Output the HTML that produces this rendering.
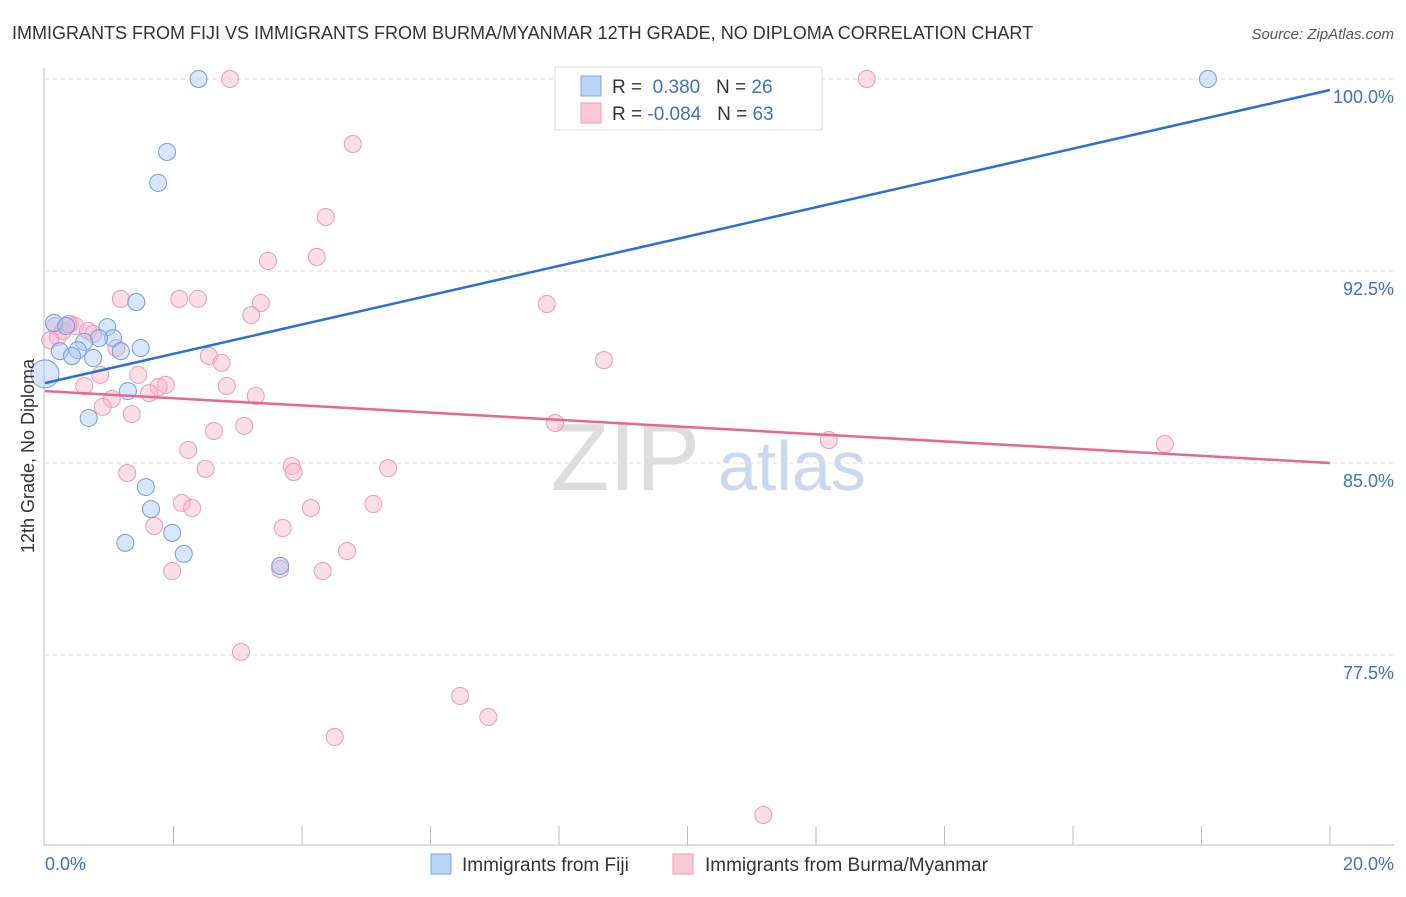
<!DOCTYPE html>
<html><head><meta charset="utf-8"><style>
body{margin:0;background:#fff;font-family:"Liberation Sans",sans-serif;}
svg text{font-family:"Liberation Sans",sans-serif;}
</style></head><body>
<svg width="1406" height="892" xmlns="http://www.w3.org/2000/svg">
<text x="12" y="39" font-size="18" fill="#333">IMMIGRANTS FROM FIJI VS IMMIGRANTS FROM BURMA/MYANMAR 12TH GRADE, NO DIPLOMA CORRELATION CHART</text>
<text x="1394" y="39" font-size="15" fill="#555" font-style="italic" text-anchor="end">Source: ZipAtlas.com</text>
<g id="grid"></g>
<text x="700" y="490" font-size="96" fill="#ddd" text-anchor="end" font-family="Liberation Serif">ZIP</text>
<text x="718" y="490" font-size="70" fill="#c9d9ef">atlas</text>
<line x1="44" y1="68" x2="44" y2="845" stroke="#bbb"/>
<line x1="44" y1="845" x2="1394" y2="845" stroke="#bbb"/>
<g id="ticks"></g>
<g id="pts"></g>
<g id="lines"></g>
<text x="34" y="456" font-size="18" fill="#333" text-anchor="middle" transform="rotate(-90 34 456)">12th Grade, No Diploma</text>
<text x="45" y="870" font-size="18" fill="#3b6fd0">0.0%</text>
<text x="1394" y="870" font-size="18" fill="#3b6fd0" text-anchor="end">20.0%</text>
<g>
<rect x="555" y="67" width="267" height="63" fill="#fff" stroke="#ddd"/>
<rect x="581" y="76" width="20" height="20" fill="#b9d3f5" stroke="#7aa6e6"/>
<rect x="581" y="103" width="20" height="20" fill="#fbc9d6" stroke="#ee9ab2"/>
<text x="612" y="93" font-size="19" fill="#333">R = <tspan fill="#3b6fd0">&#160;0.380</tspan>&#160;&#160;&#160;N = <tspan fill="#3b6fd0">26</tspan></text>
<text x="612" y="120" font-size="19" fill="#333">R = <tspan fill="#3b6fd0">-0.084</tspan>&#160;&#160;&#160;N = <tspan fill="#3b6fd0">63</tspan></text>
</g>
<g>
<rect x="431" y="854" width="20" height="20" fill="#b9d3f5" stroke="#7aa6e6"/>
<text x="462" y="871" font-size="19" fill="#333">Immigrants from Fiji</text>
<rect x="673" y="854" width="20" height="20" fill="#fbc9d6" stroke="#ee9ab2"/>
<text x="705" y="871" font-size="19" fill="#333">Immigrants from Burma/Myanmar</text>
</g>
</svg>
<script>
const yTicks=[100,92.5,85,77.5];
const yTickLabels=["100.0%","92.5%","85.0%","77.5%"];
const fijiX=[2.39,1.90,1.76,1.42,0.14,0.97,0.33,1.06,0.84,0.61,1.49,0.23,1.18,0.51,0.42,0.75,0.0,1.29,0.68,1.57,1.65,1.25,1.98,2.16,3.66,18.10];
const fijiY=[100,97.15,95.94,91.29,90.47,90.31,90.35,89.88,89.88,89.73,89.49,89.37,89.37,89.41,89.18,89.10,88.48,87.81,86.76,84.06,83.20,81.88,82.27,81.45,80.98,100];
const burmaX=[2.88,12.79,4.79,4.37,3.47,4.23,1.18,2.09,2.38,3.36,7.81,3.21,0.16,0.39,0.47,0.28,0.67,0.75,0.20,1.11,2.55,2.75,8.70,0.86,1.45,0.61,1.88,1.77,1.62,2.83,3.28,1.04,0.90,1.35,7.94,3.10,2.63,12.20,17.43,2.23,3.84,3.87,5.34,2.50,1.28,5.11,2.13,2.29,4.14,1.70,3.70,4.70,1.98,3.66,4.32,3.05,6.46,6.90,4.51,11.18,0.08,0.36];
const burmaY=[100,100,97.46,94.61,92.89,93.05,91.41,91.41,91.41,91.25,91.21,90.78,90.35,90.43,90.35,90.16,90.16,90.04,89.92,89.49,89.18,88.91,89.02,88.44,88.44,88.01,88.05,87.97,87.73,88.01,87.62,87.50,87.19,86.91,86.56,86.45,86.25,85.90,85.74,85.51,84.88,84.65,84.80,84.77,84.61,83.40,83.44,83.24,83.24,82.54,82.46,81.56,80.78,80.86,80.78,77.62,75.90,75.08,74.30,71.25,89.80,90.43];
const trendX=[0,20];
const fijiTrend=[88.12,99.57];
const burmaTrend=[87.81,85.0];
const xTicks=[2,4,6,8,10,12,14,16,18,20];
const NS="http://www.w3.org/2000/svg";
const X=v=>45+v/20*1285, Y=v=>79+(100-v)*25.6;
function mk(t,a,p){const e=document.createElementNS(NS,t);for(const k in a)e.setAttribute(k,a[k]);document.getElementById(p).appendChild(e);return e;}
yTicks.forEach((v,i)=>{
 const l=mk('line',{x1:45,x2:1394,y1:Y(v),y2:Y(v),stroke:'#ddd','stroke-dasharray':'4,4'},'grid');
 
 
 const t=mk('text',{x:1394,y:Y(v)+24,'font-size':18,fill:'#3b6fd0','text-anchor':'end'},'grid');
 t.textContent=yTickLabels[i];
 
 
});
xTicks.forEach(v=>{
 const l=mk('line',{x1:X(v),x2:X(v),y1:826,y2:845,stroke:'#bbb'},'ticks');
 
 
});
burmaX.forEach((v,i)=>{
 const c=mk('circle',{cx:X(v),cy:Y(burmaY[i]),r:8.5,fill:'#f7b6c9','fill-opacity':0.45,stroke:'#ee9ab2','stroke-width':1},'pts');
 
 
});
fijiX.forEach((v,i)=>{
 const c=mk('circle',{cx:X(v),cy:Y(fijiY[i]),r:i==16?14:8.5,fill:'#a9c8f2','fill-opacity':0.45,stroke:'#6f9fe0','stroke-width':1},'pts');
 
 
});
const l1=mk('line',{x1:X(trendX[0]),y1:Y(fijiTrend[0]),x2:X(trendX[1]),y2:Y(fijiTrend[1]),stroke:'#2a6fd6','stroke-width':2.5},'lines');


const l2=mk('line',{x1:X(trendX[0]),y1:Y(burmaTrend[0]),x2:X(trendX[1]),y2:Y(burmaTrend[1]),stroke:'#e8668f','stroke-width':2.5},'lines');


</script>
</body></html>
